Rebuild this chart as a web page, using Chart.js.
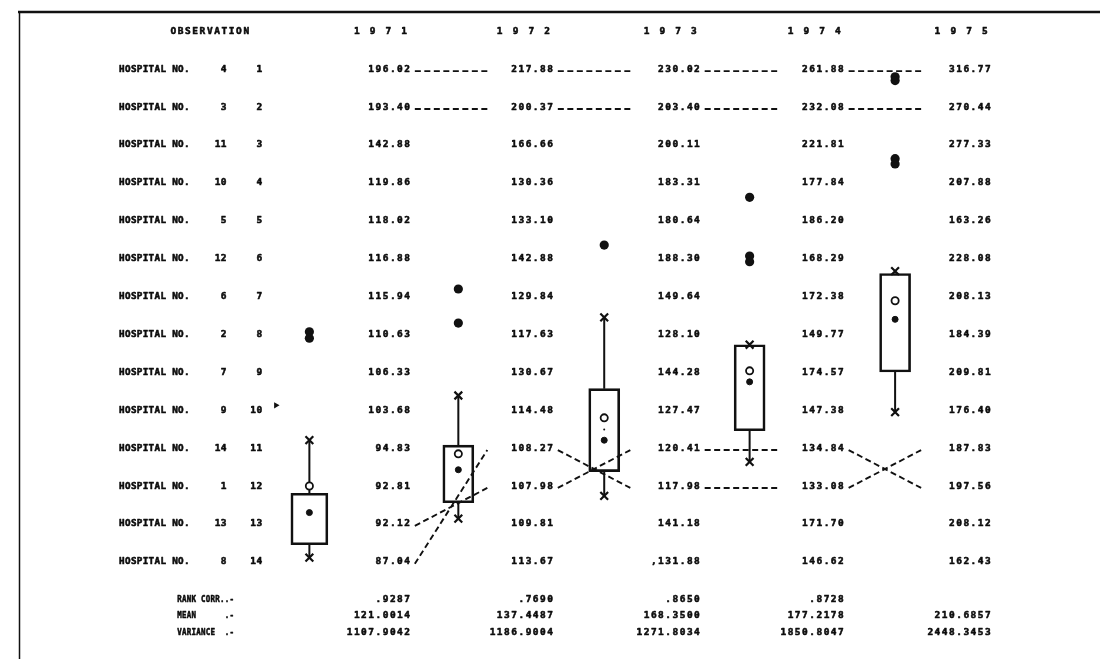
<!DOCTYPE html>
<html>
<head>
<meta charset="utf-8">
<script src="https://cdn.jsdelivr.net/npm/chart.js@4/dist/chart.umd.min.js"></script>
<style>
html,body{margin:0;padding:0;background:#fff;}
#wrap{width:1100px;height:659px;position:relative;overflow:hidden;}
canvas{display:block;}
</style>
</head>
<body>
<div id="wrap"><canvas id="c" width="1100" height="659"></canvas></div>
<script>
// ---------------- DATA ----------------
const headerLabel = 'OBSERVATION';
const years = ['1 9 7 1', '1 9 7 2', '1 9 7 3', '1 9 7 4', '1 9 7 5'];
const ranks = [1, 2, 3, 4, 5, 6, 7, 8, 9, 10, 11, 12, 13, 14];
const hospitalNos = [4, 3, 11, 10, 5, 12, 6, 2, 7, 9, 14, 1, 13, 8];

const values1971 = ['196.02', '193.40', '142.88', '119.86', '118.02', '116.88', '115.94', '110.63', '106.33', '103.68', '94.83', '92.81', '92.12', '87.04'];
const values1972 = ['217.88', '200.37', '166.66', '130.36', '133.10', '142.88', '129.84', '117.63', '130.67', '114.48', '108.27', '107.98', '109.81', '113.67'];
const values1973 = ['230.02', '203.40', '200.11', '183.31', '180.64', '188.30', '149.64', '128.10', '144.28', '127.47', '120.41', '117.98', '141.18', ',131.88'];
const values1974 = ['261.88', '232.08', '221.81', '177.84', '186.20', '168.29', '172.38', '149.77', '174.57', '147.38', '134.84', '133.08', '171.70', '146.62'];
const values1975 = ['316.77', '270.44', '277.33', '207.88', '163.26', '228.08', '208.13', '184.39', '209.81', '176.40', '187.83', '197.56', '208.12', '162.43'];

const summaryLabels = ['RANK CORR..-', 'MEAN      .-', 'VARIANCE  .-'];
const rankCorr = ['.9287', '.7690', '.8650', '.8728', ''];
const means = ['121.0014', '137.4487', '168.3500', '177.2178', '210.6857'];
const variances = ['1107.9042', '1186.9004', '1271.8034', '1850.8047', '2448.3453'];

// rank links between consecutive years: [fromYearIndex, fromRank, toRank]
const rankLinks = [
  [0, 1, 1], [0, 2, 2], [0, 13, 12], [0, 14, 11],
  [1, 1, 1], [1, 2, 2], [1, 11, 12], [1, 12, 11],
  [2, 1, 1], [2, 2, 2], [2, 11, 11], [2, 12, 12],
  [3, 1, 1], [3, 2, 2], [3, 11, 12], [3, 12, 11]
];

// box plots, vertical unit = printed row position
const boxWhiskerTop    = [10.79, 9.61, 7.55, 8.27, 6.33];
const boxUpper         = [12.19, 10.92, 9.43, 8.27, 6.39];
const boxLower         = [13.55, 12.44, 11.62, 10.54, 8.99];
const boxWhiskerBottom = [13.89, 12.86, 12.26, 11.36, 10.05];
const boxMedian        = [12.00, 11.15, 10.20, 8.96, 7.11];
const boxMean          = [12.70, 11.57, 10.79, 9.25, 7.60];
const boxExtraDot      = [null, null, 10.51, null, null];
const boxOutliers      = [[7.93, 8.10], [6.80, 7.70], [5.64], [4.38, 5.93, 6.08], [1.20, 1.30, 3.36, 3.50]];
const markerRow10 = 9.87;

// ---------------- LAYOUT (print-column units) ----------------
const PITCH = 8.17;                    // px per print column
const boxCol = [37.45, 55.94, 74.05, 92.1, 110.16];
const valueCol = [49.94, 67.69, 85.92, 103.79, 122.03];
const rowPx0 = 24.2, rowPx = 38.8;
const yMin = -rowPx0 / rowPx, yMax = yMin + 659 / rowPx;

const allValues = [values1971, values1972, values1973, values1974, values1975];

// ---------------- DATASETS ----------------
const linkData = [];
rankLinks.forEach(([k, a, b]) => {
  linkData.push({x: valueCol[k] + 0.6, y: a + 0.05});
  linkData.push({x: valueCol[k] + 9.6, y: b + 0.05});
  linkData.push({x: valueCol[k] + 9.6, y: null});
});

const whiskerData = [];
boxCol.forEach((x, i) => {
  whiskerData.push({x, y: boxWhiskerTop[i]}, {x, y: boxUpper[i]}, {x, y: null});
  whiskerData.push({x, y: boxLower[i]}, {x, y: boxWhiskerBottom[i]}, {x, y: null});
});

const xMarks = [];
boxCol.forEach((x, i) => { xMarks.push({x, y: boxWhiskerTop[i]}, {x, y: boxWhiskerBottom[i]}); });
const medianPts = boxCol.map((x, i) => ({x, y: boxMedian[i]}));
const meanPts = boxCol.map((x, i) => ({x, y: boxMean[i]}));
const extraPts = boxCol.map((x, i) => boxExtraDot[i] == null ? null : ({x, y: boxExtraDot[i]})).filter(Boolean);
const outlierPts = [];
boxCol.forEach((x, i) => boxOutliers[i].forEach(y => outlierPts.push({x, y})));

const boxesWide = [{x: boxCol[0], y: [boxUpper[0], boxLower[0]]}];
const boxesNarrow = boxCol.slice(1).map((x, j) => ({x, y: [boxUpper[j + 1], boxLower[j + 1]]}));

// ---------------- TEXT PLUGIN ----------------
const FONT = 'bold 9.5px "DejaVu Sans Mono"';
function drawSpaced(ctx, str, x, y, align, pitch) {
  ctx.save();
  ctx.font = FONT;
  const adv = ctx.measureText('0').width;
  const sx = Math.min(1, (pitch * 0.95) / adv);   // squeeze glyphs if pitch is tight
  const glyphW = adv * sx;
  const width = (str.length - 1) * pitch + glyphW;
  const start = align === 'right' ? x - width : x;
  ctx.textAlign = 'left';
  ctx.textBaseline = 'middle';
  ctx.fillStyle = '#0d0d0d';
  ctx.strokeStyle = '#0d0d0d';
  ctx.lineWidth = 0.55;
  ctx.lineJoin = 'round';
  for (let i = 0; i < str.length; i++) {
    if (str[i] === ' ') continue;
    ctx.save();
    ctx.translate(start + i * pitch, y);
    ctx.scale(sx, 1);
    ctx.fillText(str[i], 0, 0);
    ctx.strokeText(str[i], 0, 0);
    ctx.restore();
  }
  ctx.restore();
}

const printout = {
  id: 'printout',
  beforeDatasetsDraw(chart) {
    const ctx = chart.ctx;
    const X = v => chart.scales.x.getPixelForValue(v);
    const Y = v => chart.scales.y.getPixelForValue(v);
    // frame
    ctx.save();
    ctx.strokeStyle = '#111';
    ctx.lineWidth = 2.4;
    ctx.beginPath(); ctx.moveTo(18, 12); ctx.lineTo(1100, 12); ctx.stroke();
    ctx.lineWidth = 1.5;
    ctx.beginPath(); ctx.moveTo(19.5, 11); ctx.lineTo(19.5, 659); ctx.stroke();
    ctx.restore();

    drawSpaced(ctx, headerLabel, X(20.2), Y(0), 'left', 7.3);
    years.forEach((t, k) => drawSpaced(ctx, t, X(valueCol[k]) - 3, Y(0), 'right', 7.9));
    ranks.forEach((r, i) => {
      drawSpaced(ctx, 'HOSPITAL NO.', X(13.83), Y(r), 'left', 5.9);
      drawSpaced(ctx, String(hospitalNos[i]), X(27.17), Y(r), 'right', 6.2);
      drawSpaced(ctx, String(r), X(31.58), Y(r), 'right', 6.2);
      allValues.forEach((col, k) => drawSpaced(ctx, col[i], X(valueCol[k]), Y(r), 'right', 7.2));
    });
    const sumRows = [15.0, 15.41, 15.87];
    const sumVals = [rankCorr, means, variances];
    summaryLabels.forEach((lab, j) => {
      drawSpaced(ctx, lab, X(21.05), Y(sumRows[j]), 'left', 4.75);
      sumVals[j].forEach((v, k) => { if (v) drawSpaced(ctx, v, X(valueCol[k]), Y(sumRows[j]), 'right', 7.2); });
    });
  }
};

// ---------------- CHART ----------------
new Chart(document.getElementById('c'), {
  type: 'bar',
  data: {
    datasets: [
      { type: 'line', label: 'rank links', data: linkData, borderColor: '#111', borderWidth: 1.9,
        borderDash: [6, 3.5], pointRadius: 0, spanGaps: false, tension: 0, order: 5, clip: false },
      { type: 'line', label: 'whiskers', data: whiskerData, borderColor: '#111', borderWidth: 2,
        pointRadius: 0, spanGaps: false, tension: 0, order: 4, clip: false },
      { type: 'bar', label: 'box 1971', data: boxesWide, barThickness: 37, grouped: false,
        backgroundColor: 'rgba(0,0,0,0)', borderColor: '#111', borderWidth: 2, borderSkipped: false, order: 3 },
      { type: 'bar', label: 'boxes', data: boxesNarrow, barThickness: 31, grouped: false,
        backgroundColor: 'rgba(0,0,0,0)', borderColor: '#111', borderWidth: 2, borderSkipped: false, order: 3 },
      { type: 'scatter', label: 'extremes', data: xMarks, pointStyle: 'crossRot', pointRadius: 5.5,
        borderColor: '#111', borderWidth: 2.2, order: 2, clip: false },
      { type: 'scatter', label: 'median', data: medianPts, pointStyle: 'circle', pointRadius: 3.6,
        backgroundColor: '#fff', borderColor: '#111', borderWidth: 1.8, order: 1, clip: false },
      { type: 'scatter', label: 'mean', data: meanPts, pointStyle: 'circle', pointRadius: 3,
        backgroundColor: '#111', borderColor: '#111', borderWidth: 1, order: 1, clip: false },
      { type: 'scatter', label: 'extra', data: extraPts, pointStyle: 'circle', pointRadius: 1,
        backgroundColor: '#111', borderColor: '#111', borderWidth: 0, order: 1, clip: false },
      { type: 'scatter', label: 'outliers', data: outlierPts, pointStyle: 'circle', pointRadius: 4.6,
        backgroundColor: '#111', borderColor: '#111', borderWidth: 0, order: 1, clip: false },
      { type: 'scatter', label: 'marker', data: [{x: 33.3, y: markerRow10}], pointStyle: 'triangle',
        rotation: 90, pointRadius: 3.6, backgroundColor: '#111', borderColor: '#111', borderWidth: 0, order: 1, clip: false }
    ]
  },
  options: {
    responsive: false,
    animation: false,
    devicePixelRatio: 1,
    layout: { padding: 0 },
    plugins: { legend: { display: false }, tooltip: { enabled: false }, title: { display: false } },
    scales: {
      x: { type: 'linear', display: false, min: 0, max: 1100 / PITCH, offset: false },
      y: { type: 'linear', display: false, reverse: true, min: yMin, max: yMax, offset: false }
    }
  },
  plugins: [printout]
});
</script>
</body>
</html>
